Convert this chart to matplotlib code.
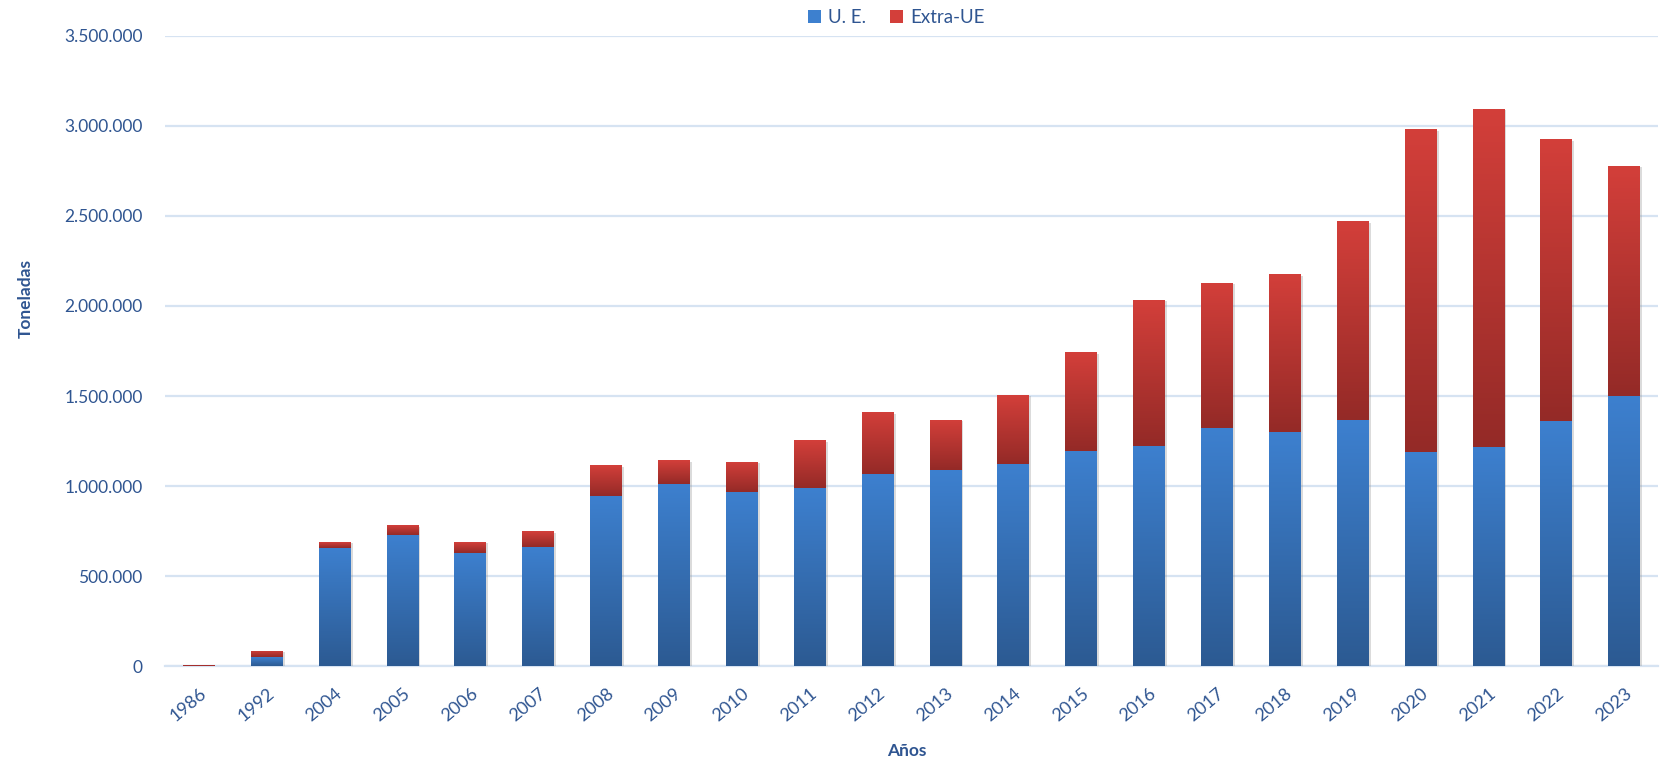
import numpy as np
import matplotlib
matplotlib.use("Agg")
import matplotlib.pyplot as plt
from matplotlib.colors import LinearSegmentedColormap
from matplotlib.ticker import FuncFormatter, MultipleLocator
import matplotlib.patheffects as pe

plt.rcParams['font.family'] = ['Lato', 'DejaVu Sans']

years = ["1986", "1992", "2004", "2005", "2006", "2007", "2008", "2009", "2010",
         "2011", "2012", "2013", "2014", "2015", "2016", "2017", "2018", "2019",
         "2020", "2021", "2022", "2023"]
ue = [0, 48000, 657000, 730000, 630000, 662000, 946000, 1012000, 968000,
      988000, 1065000, 1088000, 1125000, 1196000, 1225000, 1320000, 1298000, 1365000,
      1190000, 1219000, 1360000, 1502000]
total = [8000, 83000, 690000, 782000, 690000, 748000, 1115000, 1142000, 1135000,
         1253000, 1410000, 1368000, 1505000, 1742000, 2033000, 2128000, 2177000, 2470000,
         2981000, 3095000, 2925000, 2779000]
extra_ue = [t - u for t, u in zip(total, ue)]

text_col = "#2F5591"
grid_col = "#D6E3F2"
blue_top, blue_bot = "#3D80CF", "#2C5A92"
red_top, red_bot = "#D33F3A", "#942A27"

fig = plt.figure(figsize=(16.75, 7.59), dpi=100)
ax = fig.add_axes([0.0985, 0.1225, 0.8915, 0.8301])

x = np.arange(len(years))
width = 0.47

cmap_blue = LinearSegmentedColormap.from_list("ue", [blue_bot, blue_top])
cmap_red = LinearSegmentedColormap.from_list("xue", [red_bot, red_top])
grad = np.linspace(0, 1, 256).reshape(-1, 1)

shadow = [pe.SimplePatchShadow(offset=(1.4, -1.0), shadow_rgbFace="#8a8a8a", alpha=0.3),
          pe.Normal()]

b1 = ax.bar(x, ue, width, color=blue_top, label="U. E.", zorder=3,
            linewidth=0, path_effects=shadow)
b2 = ax.bar(x, extra_ue, width, bottom=ue, color=red_top, label="Extra-UE", zorder=3,
            linewidth=0, path_effects=shadow)

# vertical gradient fill inside each bar segment
for bars, cmap in ((b1, cmap_blue), (b2, cmap_red)):
    for p in bars:
        h = p.get_height()
        if h <= 0:
            continue
        x0, y0, w = p.get_x(), p.get_y(), p.get_width()
        im = ax.imshow(grad, cmap=cmap, origin="lower", aspect="auto",
                       extent=[x0, x0 + w, y0, y0 + h], zorder=4,
                       interpolation="bilinear")
        im.set_clip_path(p)

ax.set_xlim(-0.5, len(years) - 0.5)
ax.set_ylim(0, 3500000)
ax.yaxis.set_major_locator(MultipleLocator(500000))
ax.yaxis.set_major_formatter(FuncFormatter(lambda v, _: f"{int(v):,}".replace(",", ".")))
ax.grid(axis="y", color=grid_col, linewidth=1.6, zorder=0)
ax.set_axisbelow(True)
for s in ("top", "right", "left"):
    ax.spines[s].set_visible(False)
ax.spines["bottom"].set_color(grid_col)
ax.spines["bottom"].set_linewidth(1.6)
ax.spines["bottom"].set_zorder(2)

ax.set_xticks(x)
ax.set_xticklabels(years, rotation=40, ha="right", rotation_mode="anchor")
ax.tick_params(axis="both", length=0, colors=text_col, labelsize=12.5)
ax.tick_params(axis="x", pad=14, labelsize=13)
ax.tick_params(axis="y", pad=16)

fig.text(0.0155, 0.607, "Toneladas", rotation=90, ha="center", va="center",
         color=text_col, fontsize=12.5, fontweight="bold")
fig.text(0.5415, 0.0105, "Años", ha="center", va="center",
         color=text_col, fontsize=12.5, fontweight="bold")

leg = fig.legend(handles=[b1, b2], labels=["U. E.", "Extra-UE"], loc="center",
                 bbox_to_anchor=(0.535, 0.977), ncol=2, frameon=False,
                 fontsize=13.5, handlelength=0.7, handleheight=0.7,
                 handletextpad=0.35, columnspacing=1.3, labelcolor=text_col)
for h in leg.legend_handles:
    h.set_path_effects([])
leg.legend_handles[0].set_color(blue_top)
leg.legend_handles[1].set_color(red_top)

fig.savefig("out.png", dpi=100, facecolor="white")
